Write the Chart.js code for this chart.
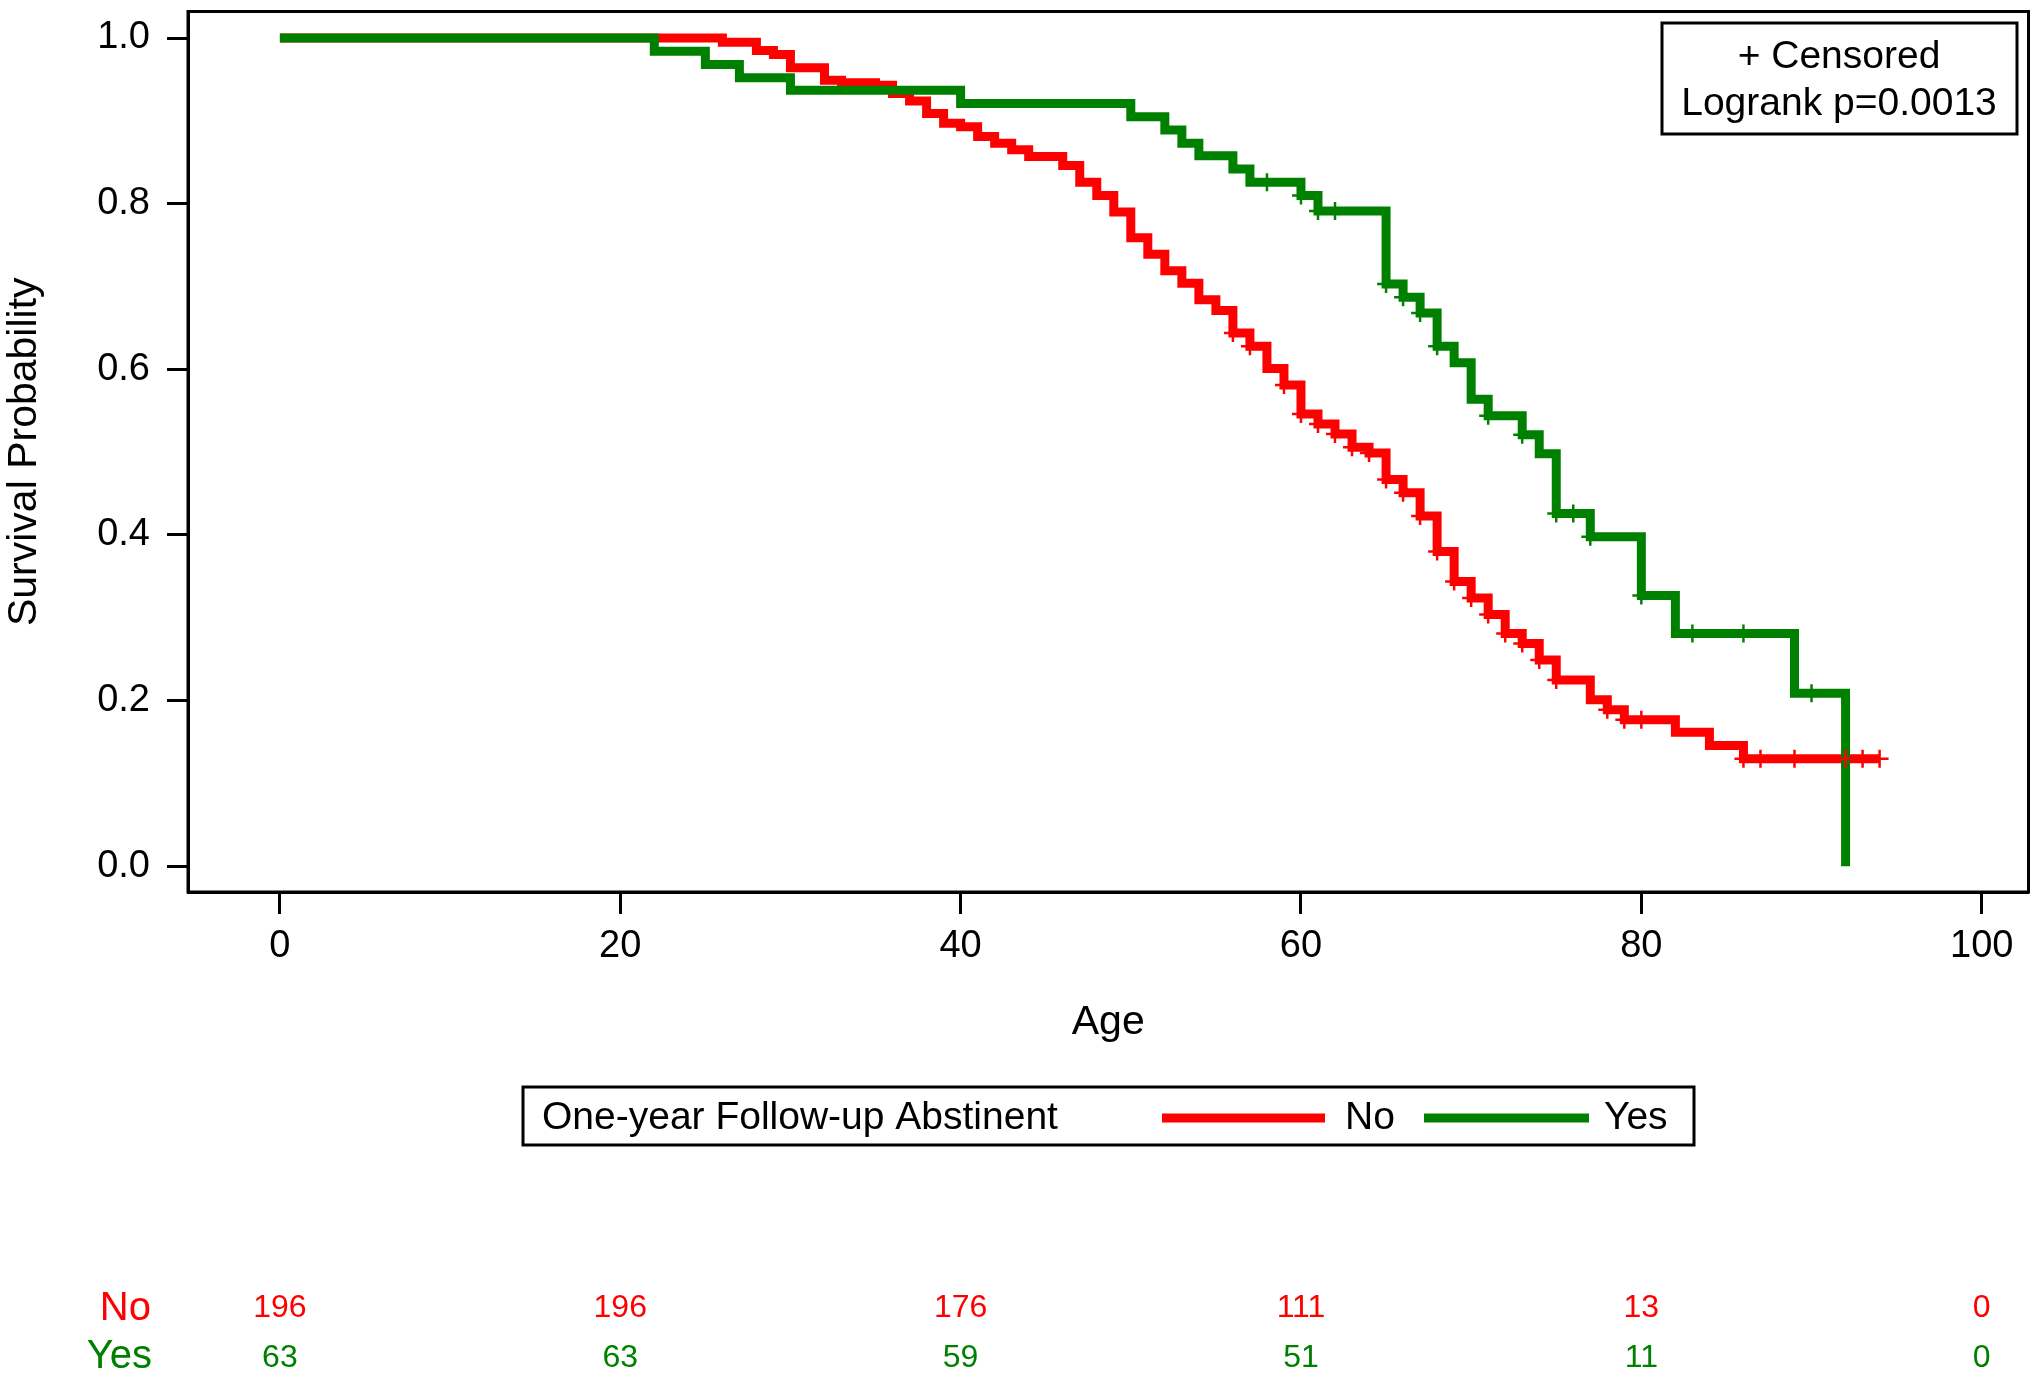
<!DOCTYPE html>
<html>
<head>
<meta charset="utf-8">
<title>Survival Probability by Age</title>
<script src="https://cdn.jsdelivr.net/npm/chart.js@4.4.0/dist/chart.umd.min.js"></script>
<style>
  html, body { margin: 0; padding: 0; background: #fff; }
  #kmChart { display: block; }
</style>
</head>
<body>
<canvas id="kmChart" width="2040" height="1375"></canvas>
<script>
// Kaplan-Meier steps: age of each drop and the survival just after it
const noAges = [0, 26, 28, 29, 30, 32, 33, 35, 36, 37, 38, 39, 40, 41, 42, 43, 44, 46, 47, 48, 49, 50,
  51, 52, 53, 54, 55, 56, 57, 58, 59, 60, 61, 62, 63, 64, 65, 66, 67, 68, 69, 70, 71, 72, 73, 74, 75,
  77, 78, 79, 82, 84, 86, 94];
const noSurv = [1.0, 0.995, 0.985, 0.980, 0.964, 0.949, 0.946, 0.943, 0.933, 0.924, 0.909, 0.897, 0.893,
  0.881, 0.873, 0.865, 0.857, 0.846, 0.826, 0.810, 0.790, 0.759, 0.739, 0.719, 0.704, 0.684, 0.671,
  0.644, 0.628, 0.601, 0.581, 0.546, 0.534, 0.522, 0.506, 0.499, 0.467, 0.451, 0.423, 0.380, 0.344,
  0.324, 0.304, 0.281, 0.269, 0.249, 0.225, 0.201, 0.189, 0.177, 0.162, 0.146, 0.130, 0.130];
const noCensored = [56, 57, 59, 60, 61, 62, 63, 64, 65, 66, 67, 68, 69, 70, 71, 72, 73, 74, 75,
  78, 79, 80, 86, 87, 89, 92, 93, 94];

const yesAges = [0, 22, 25, 27, 30, 40, 50, 52, 53, 54, 56, 57, 60, 61, 65, 66, 67, 68, 69, 70, 71,
  73, 74, 75, 77, 80, 82, 89, 92];
const yesSurv = [1.0, 0.984, 0.968, 0.952, 0.937, 0.921, 0.905, 0.889, 0.873, 0.858, 0.842, 0.826,
  0.810, 0.791, 0.703, 0.687, 0.668, 0.628, 0.608, 0.564, 0.544, 0.521, 0.498, 0.426, 0.398, 0.327,
  0.281, 0.209, 0.0];
const yesCensored = [58, 60, 61, 62, 65, 66, 67, 68, 71, 73, 75, 76, 77, 80, 83, 86, 90];

const riskAges = [0, 20, 40, 60, 80, 100];
const noAtRisk = [196, 196, 176, 111, 13, 0];
const yesAtRisk = [63, 63, 59, 51, 11, 0];

const xTicks = [0, 20, 40, 60, 80, 100];
const yTicks = [0, 0.2, 0.4, 0.6, 0.8, 1.0];

const groupTitle = 'One-year Follow-up Abstinent';
const insetLines = ['+ Censored', 'Logrank p=0.0013'];

const RED = '#ff0000';
const GREEN = '#008000';
const FONT = '"Liberation Sans", Arial, sans-serif';

function steps(ages, surv) {
  return ages.map((a, i) => ({ x: a, y: surv[i] }));
}

// survival level in force at time t (censor marks sit on the curve)
function survAt(ages, surv, t) {
  let s = surv[0];
  for (let i = 0; i < ages.length; i++) {
    if (ages[i] <= t) s = surv[i];
  }
  return s;
}

function marks(times, ages, surv) {
  return times.map(t => ({ x: t, y: survAt(ages, surv, t) }));
}

Chart.defaults.font.family = FONT;
Chart.defaults.color = '#000';

const frameAndExtras = {
  id: 'frameAndExtras',
  afterDraw(chart) {
    const ctx = chart.ctx;
    const area = chart.chartArea;
    const xs = chart.scales.x;
    ctx.save();

    // plot frame
    ctx.strokeStyle = '#000';
    ctx.lineWidth = 3;
    ctx.strokeRect(area.left, area.top, area.right - area.left, area.bottom - area.top);

    // x axis title
    ctx.fillStyle = '#000';
    ctx.font = '41px ' + FONT;
    ctx.textAlign = 'center';
    ctx.textBaseline = 'alphabetic';
    ctx.fillText('Age', (area.left + area.right) / 2, 1034);

    // inset box
    ctx.strokeRect(1662, 23, 355, 111);
    ctx.font = '39px ' + FONT;
    ctx.fillText(insetLines[0], 1839, 68);
    ctx.fillText(insetLines[1], 1839, 115);

    // legend
    const noSet = chart.data.datasets[1];
    const yesSet = chart.data.datasets[0];
    ctx.strokeRect(523, 1087, 1171, 58);
    ctx.textAlign = 'left';
    ctx.font = '39px ' + FONT;
    ctx.fillText(groupTitle, 542, 1129);
    ctx.lineWidth = 9;
    ctx.strokeStyle = noSet.borderColor;
    ctx.beginPath(); ctx.moveTo(1162, 1118); ctx.lineTo(1325, 1118); ctx.stroke();
    ctx.fillText(noSet.label, 1345, 1129);
    ctx.strokeStyle = yesSet.borderColor;
    ctx.beginPath(); ctx.moveTo(1424, 1118); ctx.lineTo(1589, 1118); ctx.stroke();
    ctx.fillText(yesSet.label, 1604, 1129);

    // numbers at risk
    ctx.textAlign = 'right';
    ctx.font = '40px ' + FONT;
    ctx.fillStyle = RED;
    ctx.fillText(noSet.label, 151, 1320);
    ctx.fillStyle = GREEN;
    ctx.fillText(yesSet.label, 152, 1368);
    ctx.textAlign = 'center';
    ctx.font = '32px ' + FONT;
    riskAges.forEach((a, i) => {
      const px = xs.getPixelForValue(a);
      ctx.fillStyle = RED;
      ctx.fillText(String(noAtRisk[i]), px, 1317);
      ctx.fillStyle = GREEN;
      ctx.fillText(String(yesAtRisk[i]), px, 1367);
    });
    ctx.restore();
  }
};

const ctx = document.getElementById('kmChart').getContext('2d');
const kmChart = new Chart(ctx, {
  type: 'line',
  data: {
    datasets: [{
      label: 'Yes',
      data: steps(yesAges, yesSurv),
      borderColor: GREEN,
      backgroundColor: GREEN,
      borderWidth: 9,
      stepped: 'before',
      pointRadius: 0,
      fill: false,
      borderCapStyle: 'butt',
      borderJoinStyle: 'miter',
      order: 2
    }, {
      label: 'No',
      data: steps(noAges, noSurv),
      borderColor: RED,
      backgroundColor: RED,
      borderWidth: 9,
      stepped: 'before',
      pointRadius: 0,
      fill: false,
      borderCapStyle: 'butt',
      borderJoinStyle: 'miter',
      order: 3
    }, {
      label: 'No censored',
      data: marks(noCensored, noAges, noSurv),
      showLine: false,
      pointStyle: 'cross',
      pointRadius: 9,
      pointBorderWidth: 2.5,
      borderColor: RED,
      backgroundColor: RED,
      order: 1
    }, {
      label: 'Yes censored',
      data: marks(yesCensored, yesAges, yesSurv),
      showLine: false,
      pointStyle: 'cross',
      pointRadius: 9,
      pointBorderWidth: 2.5,
      borderColor: GREEN,
      backgroundColor: GREEN,
      order: 0
    }]
  },
  options: {
    responsive: false,
    animation: false,
    devicePixelRatio: 1,
    layout: { padding: { left: 0, top: 7, right: 7, bottom: 0 } },
    plugins: {
      legend: { display: false },
      tooltip: { enabled: false }
    },
    scales: {
      x: {
        type: 'linear',
        min: -5.4,
        max: 102.75,
        afterBuildTicks: (scale) => { scale.ticks = xTicks.map(v => ({ value: v })); },
        afterFit: (scale) => {
          scale.height = 483;
          scale.paddingLeft = 0;
          scale.paddingRight = 0;
        },
        grid: {
          drawOnChartArea: false,
          drawTicks: true,
          tickLength: 22,
          tickWidth: 3,
          tickColor: '#000'
        },
        border: { display: true, color: '#000', width: 3 },
        ticks: {
          font: { size: 38 },
          color: '#000',
          padding: 10,
          maxRotation: 0,
          callback: (v) => String(v)
        }
      },
      y: {
        type: 'linear',
        min: -0.031,
        max: 1.032,
        afterBuildTicks: (scale) => { scale.ticks = yTicks.map(v => ({ value: v })); },
        afterFit: (scale) => {
          scale.width = 188;
          scale.paddingTop = 0;
          scale.paddingBottom = 0;
        },
        grid: {
          drawOnChartArea: false,
          drawTicks: true,
          tickLength: 21,
          tickWidth: 3,
          tickColor: '#000'
        },
        border: { display: true, color: '#000', width: 3 },
        title: {
          display: true,
          text: 'Survival Probability',
          font: { size: 41 },
          color: '#000',
          padding: { top: 0, bottom: 0 }
        },
        ticks: {
          font: { size: 38 },
          color: '#000',
          padding: 17,
          callback: (v) => Number(v).toFixed(1)
        }
      }
    }
  },
  plugins: [frameAndExtras]
});
</script>
</body>
</html>
